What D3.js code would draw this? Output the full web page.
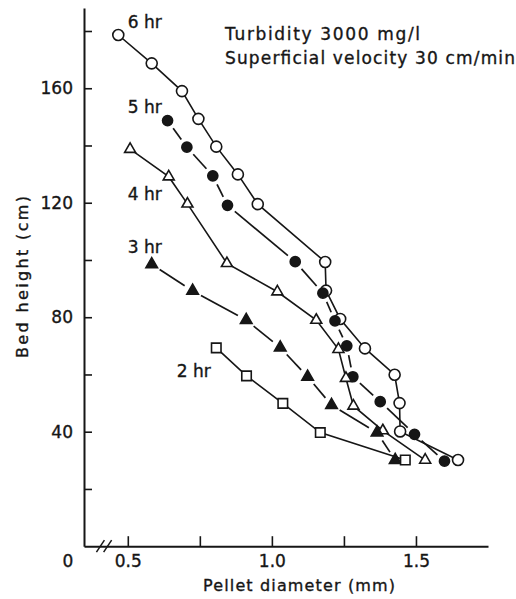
<!DOCTYPE html>
<html>
<head>
<meta charset="utf-8">
<script src="https://cdn.jsdelivr.net/npm/d3@7"></script>
<style>
  body { margin: 0; background: #fff; }
  svg text { font-family: "DejaVu Sans", sans-serif; fill: #161616; stroke: #161616; stroke-width: 0.35px; }
</style>
</head>
<body>
<div id="chart"></div>
<script>
// bed height (cm) against pellet diameter (mm), one pair of arrays per run time
const seriesNames = ["6 hr", "5 hr", "4 hr", "3 hr", "2 hr"];
const dia6 = [0.467, 0.583, 0.688, 0.745, 0.807, 0.882, 0.951, 1.185, 1.188, 1.237, 1.323, 1.426, 1.443, 1.445, 1.646];
const bed6 = [178.6, 168.7, 159.0, 149.3, 139.6, 129.9, 119.5, 99.3, 89.3, 79.4, 69.1, 59.9, 50.0, 40.1, 30.1];
const dia5 = [0.638, 0.705, 0.795, 0.846, 1.081, 1.177, 1.219, 1.260, 1.281, 1.376, 1.495, 1.599];
const bed5 = [148.7, 139.4, 129.4, 119.1, 99.4, 88.4, 78.7, 70.0, 59.2, 50.5, 39.1, 29.7];
const dia4 = [0.508, 0.642, 0.707, 0.844, 1.019, 1.154, 1.231, 1.257, 1.283, 1.385, 1.532];
const bed4 = [138.7, 129.1, 119.6, 98.8, 88.9, 79.0, 68.8, 58.7, 49.0, 40.4, 30.1];
const dia3 = [0.583, 0.725, 0.911, 1.029, 1.124, 1.207, 1.365, 1.428];
const bed3 = [98.5, 89.2, 79.0, 69.4, 59.2, 49.3, 39.7, 30.1];
const dia2 = [0.807, 0.912, 1.038, 1.168, 1.463];
const bed2 = [69.3, 59.5, 49.9, 39.7, 30.1];

const xTicks = [0.5, 0.75, 1.0, 1.25, 1.5];
const xTickLabels = ["0.5", "", "1.0", "", "1.5"];
const yTicks = [20, 40, 60, 80, 100, 120, 140, 160, 180];
const yTickLabels = ["", "40", "", "80", "", "120", "", "160", ""];
const notes = ["Turbidity 3000 mg/l", "Superficial velocity 30 cm/min"];

const width = 516, height = 599;
const ink = "#161616";

const x = d3.scaleLinear().domain([0.348, 1.75]).range([84, 488]);
const y = d3.scaleLinear().domain([0, 188]).range([546.2, 8.1]);

const svg = d3.select("#chart").append("svg")
    .attr("width", width)
    .attr("height", height);

// axes
let xAxis = d3.axisBottom(x)
    .tickValues(xTicks)
    .tickFormat((d, i) => xTickLabels[i])
    .tickSizeInner(-10)
    .tickSizeOuter(0)
    .tickPadding(9);
let yAxis = d3.axisLeft(y)
    .tickValues(yTicks)
    .tickFormat((d, i) => yTickLabels[i])
    .tickSizeInner(-8)
    .tickSizeOuter(0)
    .tickPadding(11);

let gx = svg.append("g").attr("transform", "translate(0," + y(0) + ")").call(xAxis);
let gy = svg.append("g").attr("transform", "translate(" + x.range()[0] + ",0)").call(yAxis);
[gx, gy].forEach(g => {
    g.select(".domain").attr("stroke", ink).attr("stroke-width", 2);
    g.selectAll(".tick line").attr("stroke", ink).attr("stroke-width", 1.6);
    g.selectAll(".tick text")
        .attr("fill", ink)
        .style("font-size", "17px")
        .style("font-family", "'DejaVu Sans', sans-serif");
});

// origin label and axis break
svg.append("text")
    .attr("x", x.range()[0] - 16).attr("y", y(0) + 21)
    .attr("text-anchor", "middle")
    .style("font-size", "17px")
    .text("0");
[x(0.405), x(0.430)].forEach(bx => {
    svg.append("line")
        .attr("x1", bx - 4).attr("y1", y(0) + 6)
        .attr("x2", bx + 4).attr("y2", y(0) - 6)
        .attr("stroke", ink).attr("stroke-width", 1.5);
});

// axis titles
svg.append("text")
    .attr("x", 299).attr("y", 591)
    .attr("text-anchor", "middle")
    .attr("textLength", 192)
    .style("font-size", "16px")
    .text("Pellet diameter (mm)");
svg.append("text")
    .attr("transform", "translate(28,277) rotate(-90)")
    .attr("text-anchor", "middle")
    .attr("textLength", 162)
    .style("font-size", "16px")
    .text("Bed height (cm)");

// notes
svg.append("text").attr("x", 225).attr("y", 40)
    .attr("textLength", 195).style("font-size", "17px").text(notes[0]);
svg.append("text").attr("x", 225).attr("y", 64)
    .attr("textLength", 290).style("font-size", "17px").text(notes[1]);

// series
const series = [
    {name: seriesNames[0], dia: dia6, bed: bed6, shape: d3.symbolCircle, size: 95, filled: false, broken: false, lx: 0.5, ly: 181},
    {name: seriesNames[1], dia: dia5, bed: bed5, shape: d3.symbolCircle, size: 80, filled: true, broken: true, lx: 0.5, ly: 151.4},
    {name: seriesNames[2], dia: dia4, bed: bed4, shape: d3.symbolTriangle, size: 52, filled: false, broken: false, lx: 0.5, ly: 121},
    {name: seriesNames[3], dia: dia3, bed: bed3, shape: d3.symbolTriangle, size: 58, filled: true, broken: true, lx: 0.5, ly: 102.4},
    {name: seriesNames[4], dia: dia2, bed: bed2, shape: d3.symbolSquare, size: 90, filled: false, broken: false, lx: 0.67, ly: 59.1}
];

let line = d3.line().x(d => x(d[0])).y(d => y(d[1]));

series.forEach(s => {
    let pts = s.dia.map((d, i) => [d, s.bed[i]]);
    let g = svg.append("g");
    if (s.broken) {
        // filled-marker runs are drawn as dashes that stop short of each marker
        const gap = 9.5;
        for (let i = 0; i < pts.length - 1; i++) {
            let x1 = x(pts[i][0]), y1 = y(pts[i][1]);
            let x2 = x(pts[i + 1][0]), y2 = y(pts[i + 1][1]);
            let len = Math.hypot(x2 - x1, y2 - y1);
            if (len <= 2 * gap + 2) continue;
            let ux = (x2 - x1) / len, uy = (y2 - y1) / len;
            g.append("line")
                .attr("x1", x1 + ux * gap).attr("y1", y1 + uy * gap)
                .attr("x2", x2 - ux * gap).attr("y2", y2 - uy * gap)
                .attr("stroke", ink).attr("stroke-width", 1.7);
        }
    } else {
        g.append("path")
            .datum(pts)
            .attr("d", line)
            .attr("fill", "none")
            .attr("stroke", ink)
            .attr("stroke-width", 1.6);
    }
    s.g = g;
    s.pts = pts;
});

series.forEach(s => {
    s.g.selectAll(".mark")
        .data(s.pts)
        .enter().append("path")
        .attr("class", "mark")
        .attr("transform", d => "translate(" + x(d[0]) + "," + y(d[1]) + ")")
        .attr("d", d3.symbol().type(s.shape).size(s.size))
        .attr("fill", s.filled ? ink : "#fff")
        .attr("stroke", ink)
        .attr("stroke-width", 1.6);

    svg.append("text")
        .attr("x", x(s.lx)).attr("y", y(s.ly))
        .style("font-size", "17px")
        .text(s.name);
});
</script>
</body>
</html>
